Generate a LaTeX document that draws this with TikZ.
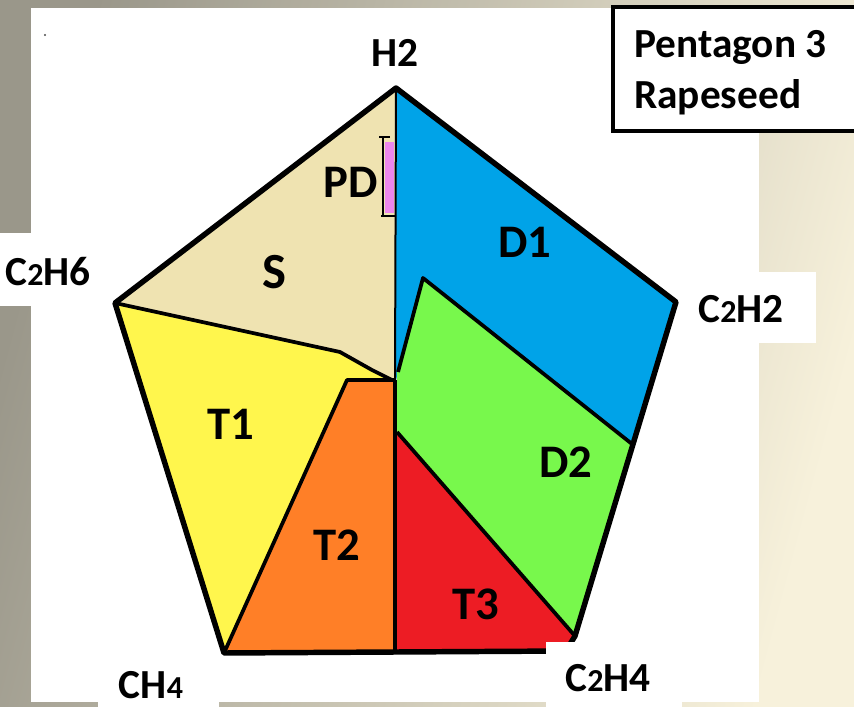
\documentclass[tikz,border=0pt]{standalone}
\usepackage{fontspec}
\setmainfont{Carlito}
\definecolor{bgleft}{HTML}{9A978A}
\definecolor{bgright}{HTML}{F7F1DB}
\definecolor{zoneS}{HTML}{EFE3B1}
\definecolor{zoneD1}{HTML}{00A3E8}
\definecolor{zoneD2}{HTML}{78F84C}
\definecolor{zoneT1}{HTML}{FFF64D}
\definecolor{zoneT2}{HTML}{FF7F27}
\definecolor{zoneT3}{HTML}{ED1C24}
\definecolor{zonePD}{HTML}{EC86EC}
\newcommand\smalldigit[1]{{\fontsize{24}{24}\selectfont #1}}
\tikzset{
  zone/.style={draw=black, line width=2.8pt, line join=round},
  gaslabel/.style={font=\fontsize{31}{31}\selectfont\bfseries, anchor=base, inner sep=0pt},
  zonelabel/.style={font=\fontsize{35}{35}\selectfont\bfseries, anchor=base, inner sep=0pt},
  titlelabel/.style={font=\fontsize{31}{31}\selectfont\bfseries, anchor=base west, inner sep=0pt},
  patch/.style={fill=white, draw=none}
}
\begin{document}
\begin{tikzpicture}[x=0.75pt, y=-0.75pt]
  \useasboundingbox (0,0) rectangle (854,707);
  % backdrop and white sheet
  \shade[left color=bgleft, right color=bgright, shading angle=75] (0,0) rectangle (854,707);
  \fill[white] (31,8) rectangle (759,702);
  \fill[black!70] (45,35) circle (1.2);

  % corner coordinates of the pentagon
  \coordinate (H2)   at (396,88);
  \coordinate (C2H6) at (115,303);
  \coordinate (C2H2) at (676,302);
  \coordinate (CH4)  at (224,653);
  \coordinate (C2H4) at (575,636);
  \coordinate (bot)  at (566,651);

  % zones
  \fill[zoneS]  (H2) -- (C2H6) -- (340,352) -- (388,378) -- (396,380) -- cycle;
  \fill[zoneD1] (H2) -- (C2H2) -- (632,444) -- (423,278) -- (398,372) -- (396,380) -- cycle;
  \fill[zoneD2] (423,278) -- (632,444) -- (575,634) -- (397,432) -- (397,372) -- cycle;
  \fill[zoneT3] (397,432) -- (C2H4) -- (bot) -- (397,653) -- cycle;
  \fill[zoneT2] (347,380) -- (394,380) -- (395,653) -- (CH4) -- cycle;
  \fill[zoneT1] (C2H6) -- (340,352) -- (385,378) -- (347,380) -- (CH4) -- cycle;

  % zone borders
  \draw[zone] (C2H6) -- (340,352) -- (372,370) -- (392,380);
  \draw[zone] (CH4) -- (347,380) -- (394,380);
  \draw[black, line width=1.5pt] (H2) -- (395,380);
  \draw[zone, line width=3.2pt] (395,380) -- (395,653);
  \draw[zone] (398,372) -- (423,278) -- (632,444);
  \draw[zone] (397,432) -- (C2H4);

  % PD strip with its bracket
  \fill[zonePD] (385,142) rectangle (394,213);
  \draw[black, line width=1pt] (383,137) -- (383,217);
  \draw[black, line width=1pt] (379,137) -- (390,137);
  \draw[black, line width=2pt] (381,216) -- (396,216);

  % outline of the pentagon
  \draw[black, line width=4.1pt, line join=round]
    (H2) -- (C2H2) -- (C2H4) -- (bot) -- (CH4) -- (C2H6) -- cycle;

  % white label patches
  \fill[patch] (0,233) rectangle (100,306);
  \fill[patch] (700,272) rectangle (816,343);
  \fill[patch] (98,662) rectangle (219,707);
  \fill[patch] (546,642) rectangle (682,707);

  % gas labels
  \node[gaslabel] (lH2)   at (395,66)  {H2};
  \node[gaslabel] (lC2H6) at (48,285)  {C\smalldigit{2}H6};
  \node[gaslabel] (lC2H2) at (741,322) {C\smalldigit{2}H2};
  \node[gaslabel] (lCH4)  at (151,698) {CH\smalldigit{4}};
  \node[gaslabel] (lC2H4) at (608,691) {C\smalldigit{2}H4};

  % zone labels
  \node[zonelabel] (lPD) at (351,197) {PD};
  \node[zonelabel, font=\fontsize{38}{38}\selectfont\bfseries] (lS) at (274,288) {S};
  \node[zonelabel] (lD1) at (525,257) {D1};
  \node[zonelabel] (lD2) at (566,477) {D2};
  \node[zonelabel] (lT1) at (231,439) {T1};
  \node[zonelabel] (lT2) at (337,560) {T2};
  \node[zonelabel] (lT3) at (476,619) {T3};

  % title box
  \draw[black, line width=3.2pt, fill=white] (613,7) rectangle (862,131);
  \node[titlelabel] (title1) at (634,57)  {Pentagon 3};
  \node[titlelabel] (title2) at (634,108) {Rapeseed};
\end{tikzpicture}
\end{document}
